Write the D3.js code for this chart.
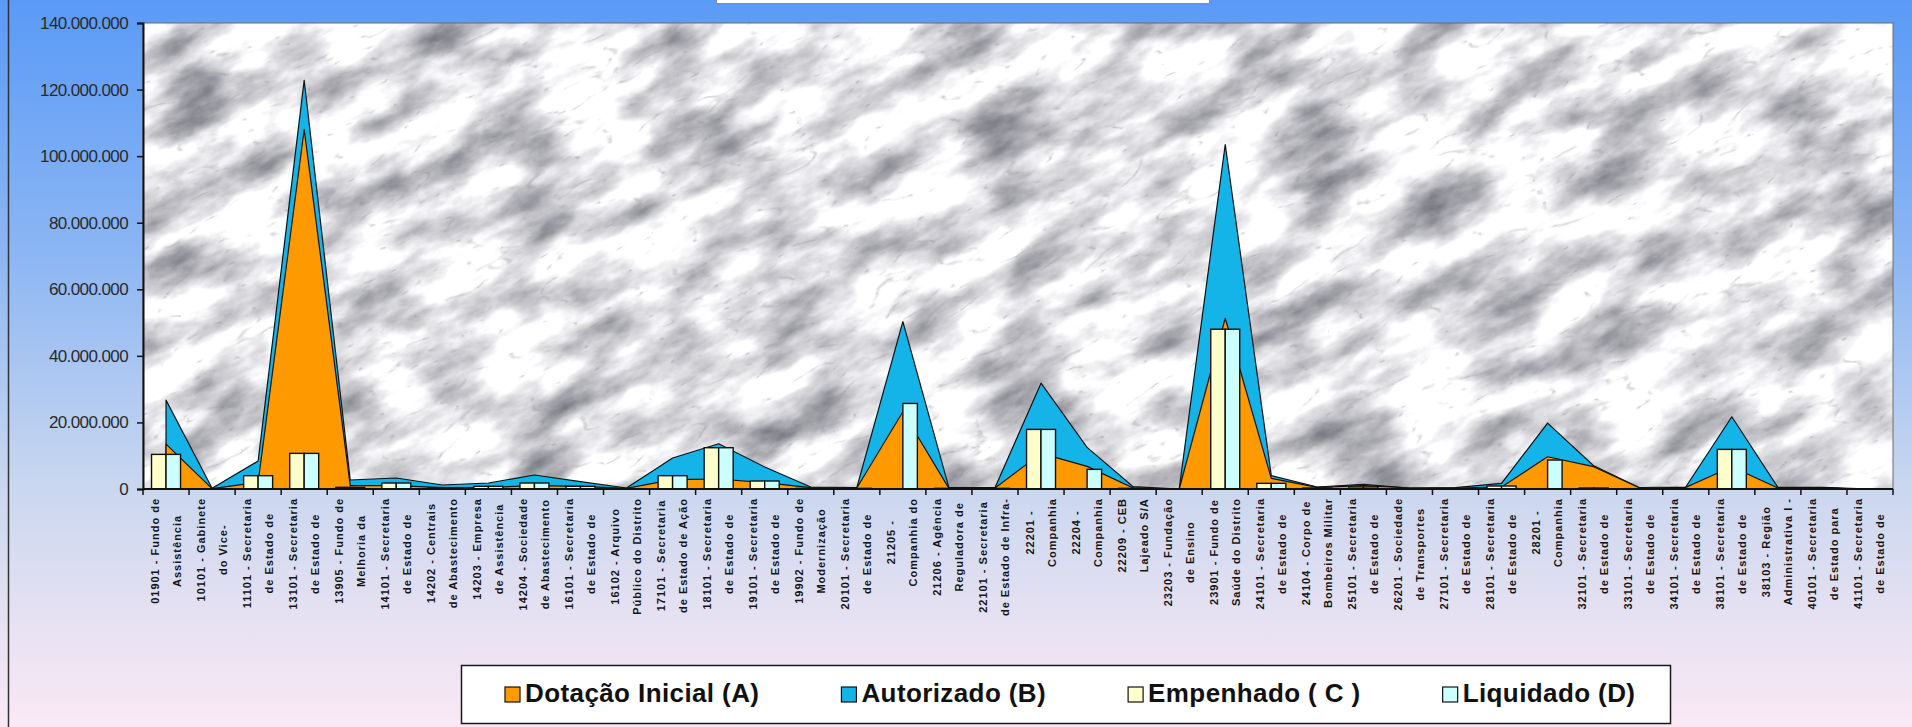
<!DOCTYPE html>
<html>
<head>
<meta charset="utf-8">
<script src="https://cdn.jsdelivr.net/npm/d3@7"></script>
<style>
  html, body { margin: 0; padding: 0; overflow: hidden; background: #fff; }
  svg { display: block; }
</style>
</head>
<body>
<div id="grafico"></div>
<script>
// unidades orçamentárias (rótulo quebrado em duas linhas)
const categorias = [
  ["01901 - Fundo de", "Assistência"],
  ["10101 - Gabinete", "do Vice-"],
  ["11101 - Secretaria", "de Estado de"],
  ["13101 - Secretaria", "de Estado de"],
  ["13905 - Fundo de", "Melhoria da"],
  ["14101 - Secretaria", "de Estado de"],
  ["14202 - Centrais", "de Abastecimento"],
  ["14203 - Empresa", "de Assistência"],
  ["14204 - Sociedade", "de Abastecimento"],
  ["16101 - Secretaria", "de Estado de"],
  ["16102 - Arquivo", "Público do Distrito"],
  ["17101 - Secretaria", "de Estado de Ação"],
  ["18101 - Secretaria", "de Estado de"],
  ["19101 - Secretaria", "de Estado de"],
  ["19902 - Fundo de", "Modernização"],
  ["20101 - Secretaria", "de Estado de"],
  ["21205 -", "Companhia do"],
  ["21206 - Agência", "Reguladora de"],
  ["22101 - Secretaria", "de Estado de Infra-"],
  ["22201 -", "Companhia"],
  ["22204 -", "Companhia"],
  ["22209 - CEB", "Lajeado S/A"],
  ["23203 - Fundação", "de Ensino"],
  ["23901 - Fundo de", "Saúde do Distrito"],
  ["24101 - Secretaria", "de Estado de"],
  ["24104 - Corpo de", "Bombeiros Militar"],
  ["25101 - Secretaria", "de Estado de"],
  ["26201 - Sociedade", "de Transportes"],
  ["27101 - Secretaria", "de Estado de"],
  ["28101 - Secretaria", "de Estado de"],
  ["28201 -", "Companhia"],
  ["32101 - Secretaria", "de Estado de"],
  ["33101 - Secretaria", "de Estado de"],
  ["34101 - Secretaria", "de Estado de"],
  ["38101 - Secretaria", "de Estado de"],
  ["38103 - Região", "Administrativa I -"],
  ["40101 - Secretaria", "de Estado para"],
  ["41101 - Secretaria", "de Estado de"]
];

// valores em milhões de R$
const dotacao    = [13.5, 0.1, 2.0, 108, 1.0, 1.0, 0.4, 0.5, 1.0, 0.8, 0.2, 2.8, 3.0, 1.9, 0.4, 0.3, 23.2, 0.2, 0.3, 10.7, 6.8, 0.3, 0, 51.3, 3.2, 0.5, 1.0, 0.3, 0.3, 0.6, 9.7, 6.7, 0.3, 0.5, 6.7, 0.3, 0.3, 0];
const autorizado = [26.7, 0.2, 8.4, 122.8, 2.7, 3.3, 1.2, 1.8, 4.2, 2.2, 0.3, 9.3, 13.6, 6.6, 0.6, 0.4, 50.3, 0.4, 0.4, 31.8, 12.5, 0.7, 0, 103.5, 4.0, 0.6, 1.4, 0.3, 0.4, 1.7, 19.8, 7.0, 0.4, 0.6, 21.7, 0.5, 0.5, 0];
const empenhado  = [10.4, 0, 4.0, 10.7, 0.5, 1.8, 0.3, 0.8, 1.8, 0.8, 0, 4.0, 12.4, 2.4, 0.2, 0.2, 0, 0.2, 0.2, 17.9, 0, 0.2, 0, 48.0, 1.7, 0.3, 0.6, 0.1, 0.1, 0.9, 0, 0.3, 0.1, 0.1, 11.9, 0.1, 0.2, 0];
const liquidado  = [10.4, 0, 4.0, 10.7, 0.5, 1.8, 0.3, 0.8, 1.8, 0.8, 0, 4.0, 12.4, 2.4, 0.2, 0.2, 25.7, 0.2, 0.2, 17.9, 5.9, 0.2, 0, 48.0, 1.7, 0.3, 0.6, 0.1, 0.1, 0.9, 8.7, 0.3, 0.1, 0.1, 11.9, 0.1, 0.2, 0];

const yTicks = [0, 20, 40, 60, 80, 100, 120, 140];
const legendas = ["Dotação Inicial (A)", "Autorizado (B)", "Empenhado ( C )", "Liquidado (D)"];
const cores = ["#ff9900", "#14b4e9", "#ffffcc", "#ccffff"];

// dimensions
var W = 1912, H = 727;
var margin = {top: 23, right: 19, bottom: 238, left: 143};
var plotW = W - margin.left - margin.right,
    plotH = H - margin.top - margin.bottom;

var svg = d3.select("#grafico").append("svg")
    .attr("width", W)
    .attr("height", H);

var defs = svg.append("defs");

// background gradient
var grad = defs.append("linearGradient")
    .attr("id", "fundo")
    .attr("x1", 0).attr("y1", 0).attr("x2", 0).attr("y2", 1);
[["0%", "#5a9af6"], ["35%", "#8cb6f3"], ["66%", "#c8d6ef"], ["85%", "#e6e1f2"], ["100%", "#f9e9f4"]]
  .forEach(function(s) { grad.append("stop").attr("offset", s[0]).attr("stop-color", s[1]); });

// marble texture: soft gray clouds + thin dark veins
var marble = defs.append("filter")
    .attr("id", "marmore")
    .attr("x", 0).attr("y", 0).attr("width", 1).attr("height", 1)
    .attr("color-interpolation-filters", "sRGB");
marble.append("feTurbulence")
    .attr("type", "fractalNoise")
    .attr("baseFrequency", "0.011 0.026")
    .attr("numOctaves", 6)
    .attr("seed", 4)
    .attr("result", "n1");
marble.append("feColorMatrix")
    .attr("in", "n1")
    .attr("type", "matrix")
    .attr("values",
      "-1.05 0 0 0 1.41 " +
      "-1.05 0 0 0 1.41 " +
      "-1.0 0 0 0 1.4 " +
      "0 0 0 0 1")
    .attr("result", "nuvem");
marble.append("feTurbulence")
    .attr("type", "turbulence")
    .attr("baseFrequency", "0.014 0.04")
    .attr("numOctaves", 3)
    .attr("seed", 9)
    .attr("result", "n2");
marble.append("feColorMatrix")
    .attr("in", "n2")
    .attr("type", "matrix")
    .attr("values",
      "0 0 0 0 0.55 " +
      "0 0 0 0 0.55 " +
      "0 0 0 0 0.57 " +
      "-4 0 0 0 0.4")
    .attr("result", "veio");
marble.append("feComposite")
    .attr("in", "veio").attr("in2", "nuvem")
    .attr("operator", "over");

defs.append("clipPath").attr("id", "clipPlot")
  .append("rect")
    .attr("x", margin.left).attr("y", margin.top)
    .attr("width", plotW).attr("height", plotH);

// background
svg.append("rect")
    .attr("width", W).attr("height", H)
    .attr("fill", "url(#fundo)");

svg.append("line")
    .attr("x1", 8.5).attr("x2", 8.5)
    .attr("y1", 0).attr("y2", H)
    .attr("stroke", "#333").attr("stroke-width", 1.5);

// title box (cut off at the top)
svg.append("rect")
    .attr("x", 716.5).attr("y", -6)
    .attr("width", 493).attr("height", 9.5)
    .attr("fill", "#fff")
    .attr("stroke", "#8a8a8a");

// plot area
var plotG = svg.append("g").attr("clip-path", "url(#clipPlot)");
plotG.append("g")
    .attr("transform", "translate(" + (margin.left + plotW / 2) + "," + (margin.top + plotH / 2) + ") rotate(-25)")
  .append("rect")
    .attr("x", -1100).attr("y", -700)
    .attr("width", 2200).attr("height", 1400)
    .attr("filter", "url(#marmore)");

svg.append("rect")
    .attr("x", margin.left).attr("y", margin.top)
    .attr("width", plotW).attr("height", plotH)
    .attr("fill", "none")
    .attr("stroke", "#6d6d6d");

// scales
var x = d3.scaleBand()
    .domain(d3.range(categorias.length))
    .range([margin.left, margin.left + plotW]);
var bw = x.bandwidth();
var cx = function(i) { return x(i) + bw / 2; };

var xSub = d3.scaleBand()
    .domain(["C", "D"])
    .range([(bw - 29) / 2, (bw + 29) / 2]);

var y = d3.scaleLinear()
    .domain([0, 140])
    .range([margin.top + plotH, margin.top]);

// areas (Autorizado behind Dotação)
var area = d3.area()
    .x(function(d, i) { return cx(i); })
    .y0(y(0))
    .y1(function(d) { return y(d); });

svg.append("path")
    .datum(autorizado)
    .attr("d", area)
    .attr("fill", cores[1])
    .attr("stroke", "#111")
    .attr("stroke-width", 1.2)
    .attr("stroke-linejoin", "round");

svg.append("path")
    .datum(dotacao)
    .attr("d", area)
    .attr("fill", cores[0])
    .attr("stroke", "#111")
    .attr("stroke-width", 1.2)
    .attr("stroke-linejoin", "round");

// bars
var barras = [{k: "C", v: empenhado, cor: cores[2]}, {k: "D", v: liquidado, cor: cores[3]}];
barras.forEach(function(s) {
  svg.append("g").selectAll("rect")
    .data(s.v.map(function(v, i) { return {i: i, v: v}; }).filter(function(d) { return d.v > 0; }))
    .enter()
    .append("rect")
      .attr("x", function(d) { return x(d.i) + xSub(s.k); })
      .attr("y", function(d) { return y(d.v); })
      .attr("width", xSub.bandwidth())
      .attr("height", function(d) { return y(0) - y(d.v); })
      .attr("fill", s.cor)
      .attr("stroke", "#111")
      .attr("stroke-width", 1.4);
});

// y axis
var fmt = d3.formatLocale({decimal: ",", thousands: ".", grouping: [3], currency: ["R$", ""]}).format(",.0f");
var yAxis = svg.append("g")
    .attr("transform", "translate(" + margin.left + ",0)")
    .call(d3.axisLeft(y).tickValues(yTicks).tickSize(6).tickPadding(9)
      .tickFormat(function(d) { return fmt(d * 1e6); }));
yAxis.select(".domain").attr("stroke", "#111").attr("stroke-width", 2);
yAxis.selectAll(".tick line").attr("stroke", "#111").attr("stroke-width", 1.5);
yAxis.selectAll(".tick text")
    .attr("font-family", "Liberation Sans, Arial, sans-serif")
    .attr("font-size", 17)
    .attr("letter-spacing", -0.6)
    .attr("fill", "#2a2a2a");

// x axis: line and ticks between categories
var xAxis = svg.append("g");
xAxis.append("line")
    .attr("x1", margin.left).attr("x2", margin.left + plotW)
    .attr("y1", y(0)).attr("y2", y(0))
    .attr("stroke", "#111").attr("stroke-width", 2);
xAxis.selectAll(".xt")
    .data(d3.range(categorias.length + 1))
    .enter()
    .append("line")
      .attr("x1", function(i) { return margin.left + i * bw; })
      .attr("x2", function(i) { return margin.left + i * bw; })
      .attr("y1", y(0)).attr("y2", y(0) + 6)
      .attr("stroke", "#111").attr("stroke-width", 1.5);

// x labels, rotated, two centered lines
var labelTop = y(0) + 9;
categorias.forEach(function(linhas, i) {
  var g = xAxis.append("g");
  var txts = linhas.map(function(t, j) {
    return g.append("text")
      .attr("text-anchor", "middle")
      .attr("dominant-baseline", "central")
      .attr("font-family", "Liberation Sans, Arial, sans-serif")
      .attr("font-weight", "bold")
      .attr("font-size", 11)
      .attr("letter-spacing", 1)
      .attr("fill", "#151515")
      .text(t);
  });
  var maxLen = d3.max(txts, function(t) { return t.node().getComputedTextLength(); });
  txts.forEach(function(t, j) {
    var px = cx(i) + (j === 0 ? -11.5 : 10.5);
    t.attr("transform", "translate(" + px + "," + (labelTop + maxLen / 2) + ") rotate(-90)");
  });
});

// legend
var leg = svg.append("g");
leg.append("rect")
    .attr("x", 461.5).attr("y", 665.5)
    .attr("width", 1209).attr("height", 58)
    .attr("fill", "#fff")
    .attr("stroke", "#1a1a1a").attr("stroke-width", 1.5);

var lx = 505;
legendas.forEach(function(nome, i) {
  leg.append("rect")
      .attr("x", lx).attr("y", 687)
      .attr("width", 15).attr("height", 15)
      .attr("fill", cores[i])
      .attr("stroke", "#111").attr("stroke-width", 1.2);
  var t = leg.append("text")
      .attr("x", lx + 20).attr("y", 702)
      .attr("font-family", "Liberation Sans, Arial, sans-serif")
      .attr("font-weight", "bold")
      .attr("font-size", 26)
      .attr("letter-spacing", 0.4)
      .attr("fill", "#111")
      .text(nome);
  lx = lx + 20 + t.node().getComputedTextLength() + 82;
});
</script>
</body>
</html>
